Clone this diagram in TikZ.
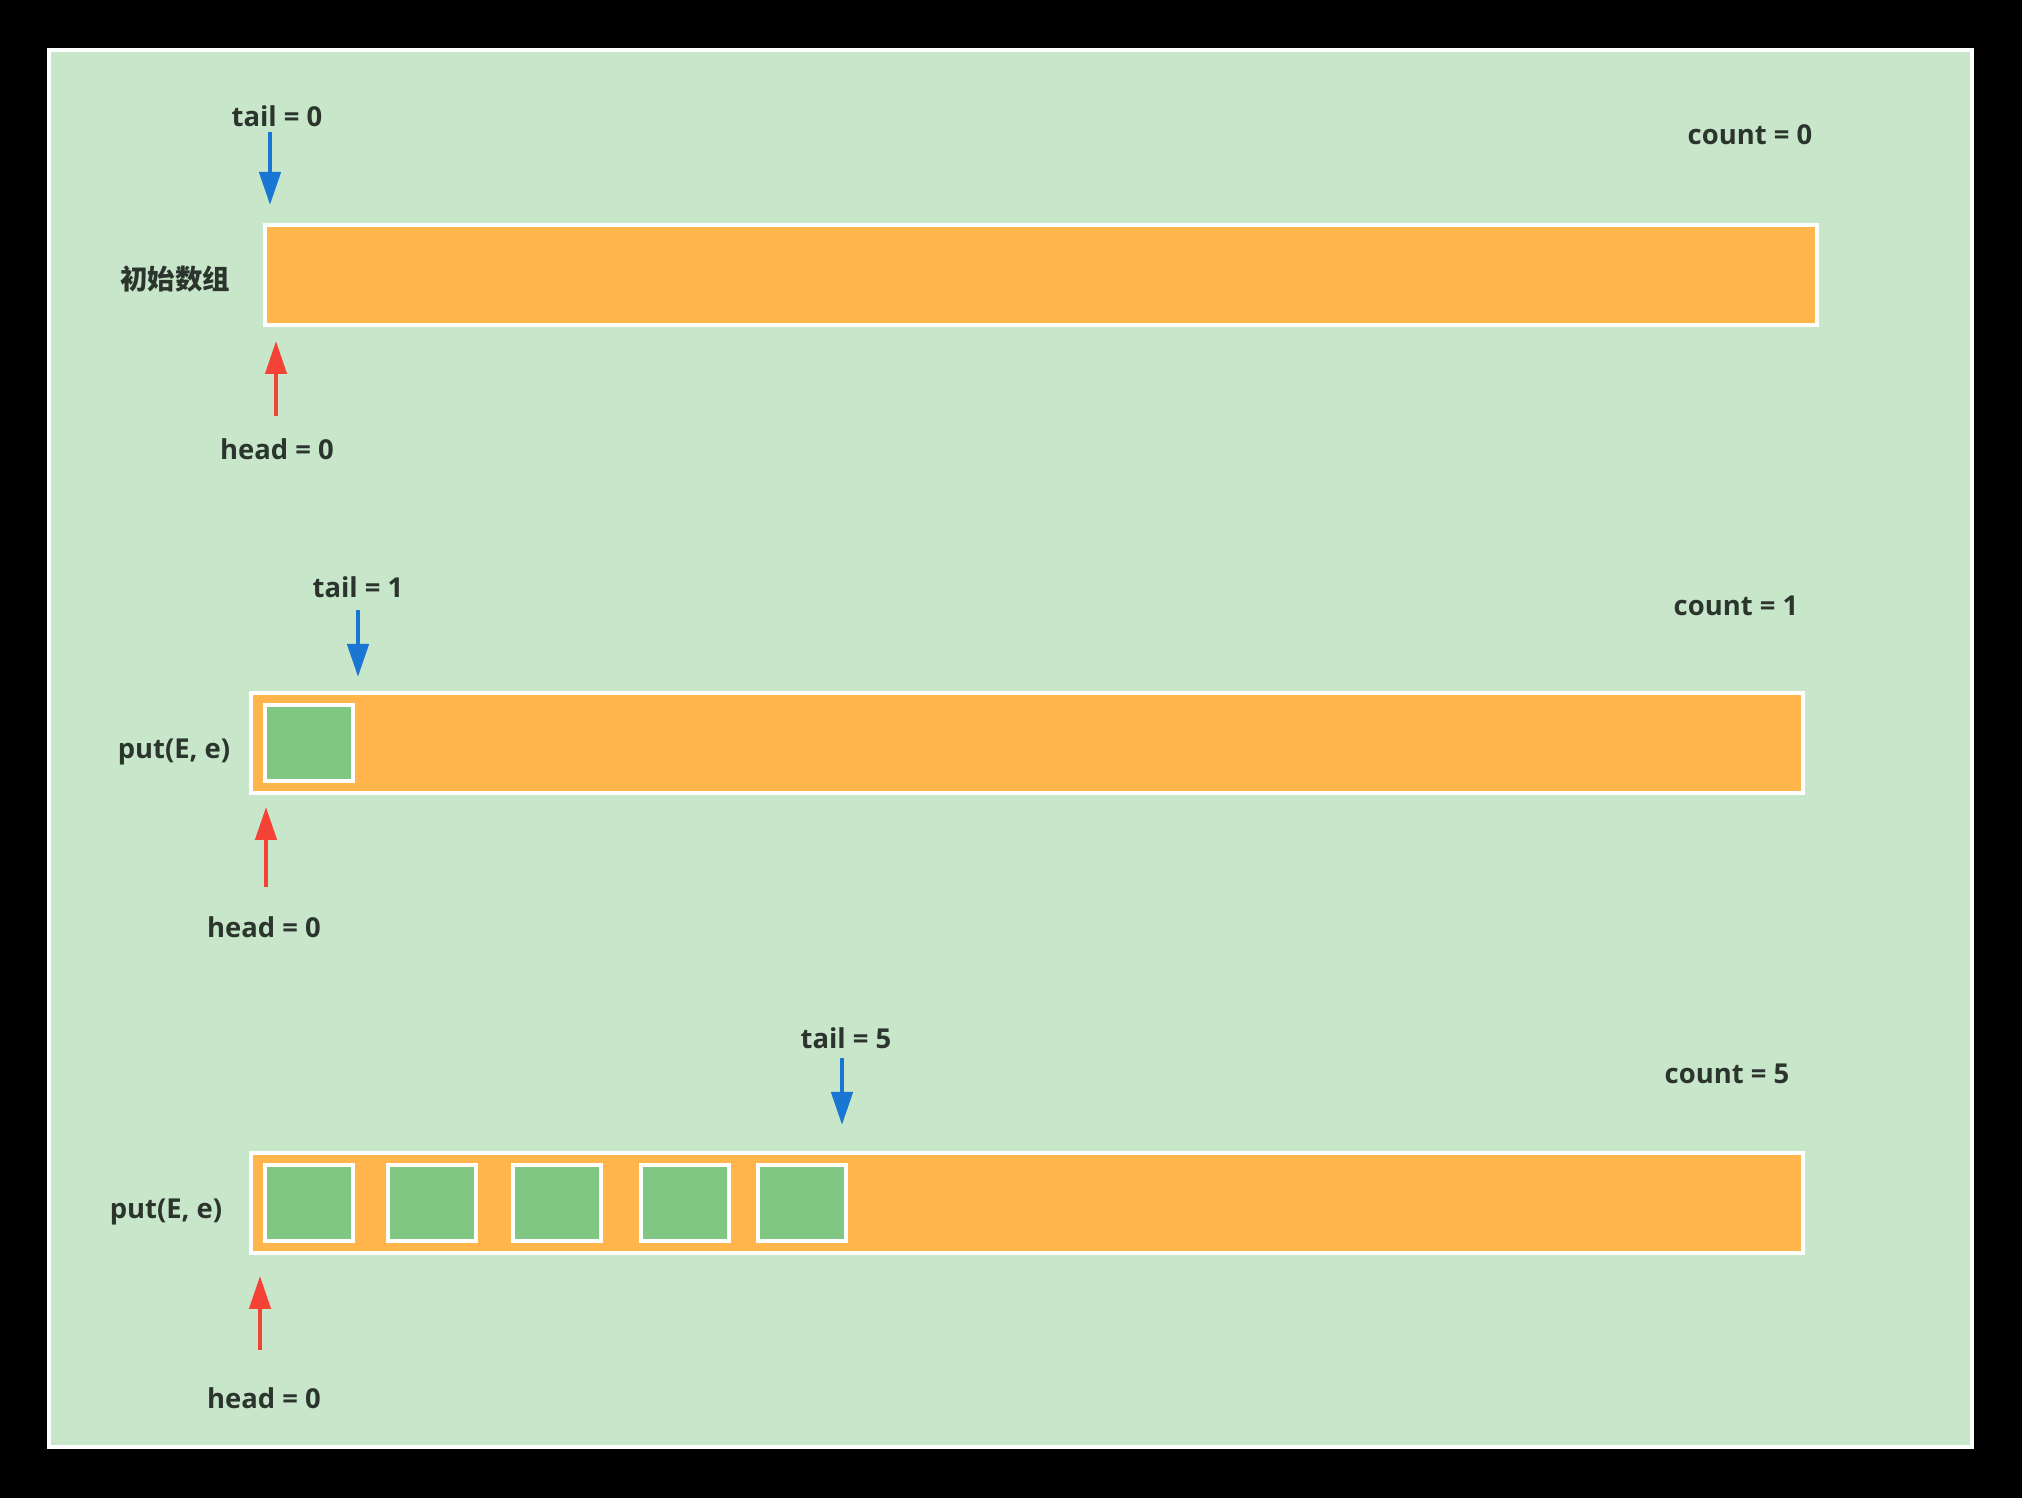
\documentclass[tikz,border=0pt]{standalone}
\usepackage{fontspec}
\setmainfont{Open Sans}
\newfontfamily\cjk{Noto Sans CJK SC}
\usepackage{tikz}
\usetikzlibrary{arrows.meta}

\definecolor{panelgreen}{RGB}{200,230,202}
\definecolor{barorange}{RGB}{255,181,76}
\definecolor{cellgreen}{RGB}{129,199,132}
\definecolor{tailblue}{RGB}{25,118,210}
\definecolor{headred}{RGB}{244,67,54}
\definecolor{textdark}{RGB}{43,53,45}

\begin{document}
\begin{tikzpicture}[>={Triangle[length=0.33cm, width=0.21cm]},
    bar/.style={draw=white, line width=1.2pt, fill=barorange, minimum width=15.52cm, minimum height=1cm, inner sep=0pt},
    cell/.style={draw=white, line width=1.2pt, fill=cellgreen, minimum width=0.88cm, minimum height=0.76cm, inner sep=0pt},
    lbl/.style={text=textdark, font=\fontsize{7.8}{9}\selectfont\bfseries, inner sep=1pt},
    tailarr/.style={->, draw=tailblue, line width=1.3pt},
    headarr/.style={->, draw=headred, line width=1.3pt}]
    % Canvas and panel
    \useasboundingbox (0,0) rectangle (20.22,14.98);
    \fill[black] (0,0) rectangle (20.22,14.98);
    \filldraw[fill=panelgreen, draw=white, line width=1.2pt] (0.49,0.51) rectangle (19.72,14.48);

    % Row 1: initial array
    \node[bar] (arr1) at (10.41,12.23) {};
    \node[lbl, font=\fontsize{7.8}{9}\selectfont\cjk\bfseries] (name1) at (1.75,12.19) {初始数组};
    \node[lbl] (tail1) at (2.77,13.82) {tail = 0};
    \node[lbl] (head1) at (2.77,10.49) {head = 0};
    \node[lbl] (count1) at (17.50,13.63) {count = 0};
    \coordinate (t1a) at (2.70,13.66);
    \coordinate (t1b) at (2.70,12.93);
    \coordinate (h1a) at (2.76,10.82);
    \coordinate (h1b) at (2.76,11.57);
    \draw[tailarr] (t1a) -- (t1b);
    \draw[headarr] (h1a) -- (h1b);

    % Row 2: one element put
    \node[bar] (arr2) at (10.27,7.55) {};
    \node[cell] (e21) at (3.09,7.55) {};
    \node[lbl] (name2) at (1.74,7.46) {put(E, e)};
    \node[lbl] (tail2) at (3.58,9.11) {tail = 1};
    \node[lbl] (head2) at (2.64,5.71) {head = 0};
    \node[lbl] (count2) at (17.36,8.92) {count = 1};
    \coordinate (t2a) at (3.58,8.88);
    \coordinate (t2b) at (3.58,8.21);
    \coordinate (h2a) at (2.66,6.11);
    \coordinate (h2b) at (2.66,6.91);
    \draw[tailarr] (t2a) -- (t2b);
    \draw[headarr] (h2a) -- (h2b);

    % Row 3: five elements put
    \node[bar] (arr3) at (10.27,2.95) {};
    \node[cell] (e31) at (3.09,2.95) {};
    \node[cell] (e32) at (4.32,2.95) {};
    \node[cell] (e33) at (5.57,2.95) {};
    \node[cell] (e34) at (6.85,2.95) {};
    \node[cell] (e35) at (8.02,2.95) {};
    \node[lbl] (name3) at (1.66,2.86) {put(E, e)};
    \node[lbl] (tail3) at (8.46,4.60) {tail = 5};
    \node[lbl] (head3) at (2.64,1.00) {head = 0};
    \node[lbl] (count3) at (17.27,4.24) {count = 5};
    \coordinate (t3a) at (8.42,4.40);
    \coordinate (t3b) at (8.42,3.73);
    \coordinate (h3a) at (2.60,1.48);
    \coordinate (h3b) at (2.60,2.22);
    \draw[tailarr] (t3a) -- (t3b);
    \draw[headarr] (h3a) -- (h3b);
\end{tikzpicture}
\end{document}
